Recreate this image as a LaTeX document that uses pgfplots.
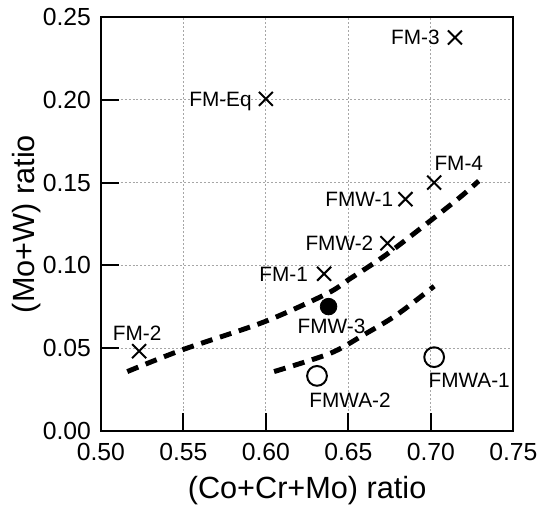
\documentclass[border=0pt]{standalone}
\usepackage{fontspec}
\setmainfont{Liberation Sans}
\usepackage{pgfplots}
\pgfplotsset{compat=1.18}

\begin{document}
\begin{tikzpicture}
  \begin{axis}[
    name=ax,
    scale only axis,
    width=208.5pt, height=209.5pt,
    xmin=0.5, xmax=0.75, ymin=0, ymax=0.25,
    xtick={0.5,0.55,0.6,0.65,0.7,0.75},
    ytick={0,0.05,0.1,0.15,0.2,0.25},
    xtick pos=bottom, ytick pos=left,
    tick align=inside,
    major tick length=9pt,
    axis line style={line width=1pt},
    every tick/.style={black, line width=1pt},
    grid=major,
    grid style={gray!70, line width=0.4pt, dash pattern=on 1pt off 1pt},
    /pgf/number format/assume math mode=true,
    xticklabel style={/pgf/number format/fixed, /pgf/number format/fixed zerofill, /pgf/number format/precision=2, yshift=-2.5pt},
    yticklabel style={/pgf/number format/fixed, /pgf/number format/fixed zerofill, /pgf/number format/precision=2, xshift=-1.5pt},
    tick label style={font=\fontsize{12.5}{14}\selectfont},
    label style={font=\fontsize{15.5}{18}\selectfont},
    xlabel={(Co+Cr+Mo) ratio},
    ylabel={(Mo+W) ratio},
    xlabel style={at={(axis description cs:0.5,0)}, anchor=base, yshift=-34pt},
    ylabel style={at={(axis description cs:-0.18,0.5)}, anchor=center},
    clip=false,
  ]
    % fitted trend curves
    \addplot[black, line width=2.5pt, dash pattern=on 6pt off 4pt, smooth] coordinates {
      (0.516,0.036) (0.549,0.049) (0.599,0.066) (0.637,0.083)
      (0.651,0.092) (0.675,0.108) (0.715,0.139) (0.729,0.151)
    };
    \addplot[black, line width=2.5pt, dash pattern=on 6pt off 4pt, smooth] coordinates {
      (0.605,0.036) (0.639,0.047) (0.659,0.058) (0.679,0.070) (0.702,0.0875)
    };
    % samples
    \addplot[only marks, mark=x, mark size=5pt, mark options={line width=1pt, black}] coordinates {
      (0.7146,0.2375) (0.600,0.2005) (0.702,0.150) (0.6846,0.140)
      (0.6737,0.1134) (0.6353,0.095) (0.5232,0.0483)
    };
    \addplot[only marks, mark=*, mark size=4.2pt, mark options={black, fill=black}] coordinates {
      (0.638,0.0752)
    };
    \addplot[only marks, mark=o, mark size=5pt, mark options={line width=1pt, black, fill=white}] coordinates {
      (0.631,0.0334) (0.702,0.0447)
    };
    \begin{scope}[every node/.style={inner sep=0pt, font=\fontsize{10.5}{12}\selectfont}]
      \node[anchor=base east, xshift=-7.5pt, yshift=-3.7pt] at (axis cs:0.7146,0.2375) {FM-3};
      \node[anchor=base east, xshift=-7pt, yshift=-3.7pt] at (axis cs:0.600,0.2005) {FM-Eq};
      \node[anchor=base west, yshift=6pt] at (axis cs:0.702,0.150) {FM-4};
      \node[anchor=base east, xshift=-6pt, yshift=-3.7pt] at (axis cs:0.6846,0.140) {FMW-1};
      \node[anchor=base east, xshift=-7pt, yshift=-3.7pt] at (axis cs:0.6737,0.1134) {FMW-2};
      \node[anchor=base east, xshift=-8pt, yshift=-3.7pt] at (axis cs:0.6353,0.095) {FM-1};
      \node[anchor=base, xshift=1.5pt, yshift=-13.5pt] at (axis cs:0.638,0.0752) {FMW-3};
      \node[anchor=base, xshift=-1pt, yshift=5.5pt] at (axis cs:0.5232,0.0483) {FM-2};
      \node[anchor=base west, xshift=-3pt, yshift=-15.5pt] at (axis cs:0.702,0.0447) {FMWA-1};
      \node[anchor=base west, xshift=-4pt, yshift=-16pt] at (axis cs:0.631,0.0334) {FMWA-2};
    \end{scope}
  \end{axis}
  \useasboundingbox ([xshift=-51pt, yshift=-37pt]ax.south west) rectangle ([xshift=12.5pt, yshift=8.5pt]ax.north east);
\end{tikzpicture}
\end{document}
